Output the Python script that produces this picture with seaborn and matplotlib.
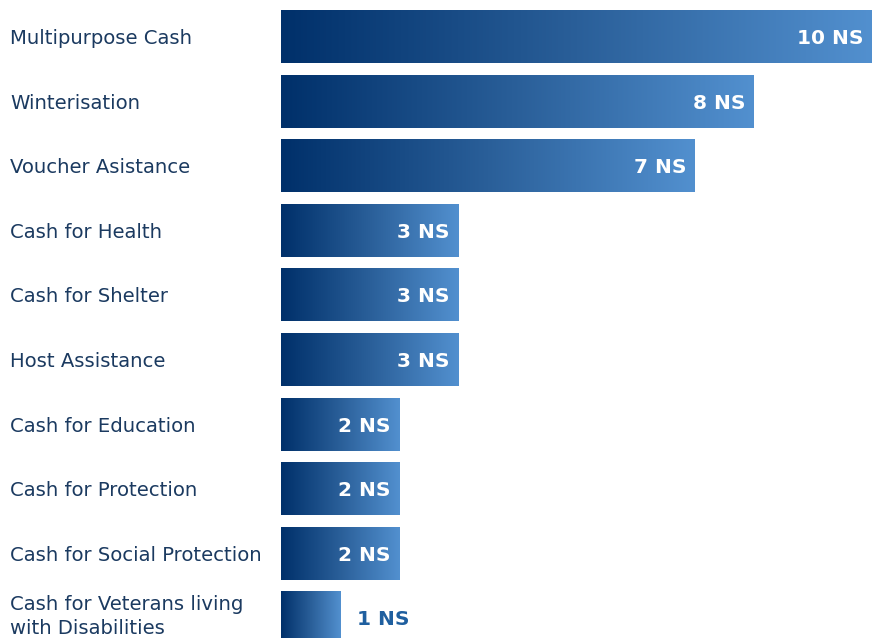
import numpy as np
import pandas as pd
import matplotlib
matplotlib.use("Agg")
import matplotlib.pyplot as plt
import matplotlib.transforms as mtransforms
from matplotlib.colors import LinearSegmentedColormap
import seaborn as sns

categories = ["Multipurpose Cash", "Winterisation", "Voucher Asistance", "Cash for Health",
              "Cash for Shelter", "Host Assistance", "Cash for Education", "Cash for Protection",
              "Cash for Social Protection", "Cash for Veterans living\nwith Disabilities"]
values = [10, 8, 7, 3, 3, 3, 2, 2, 2, 1]
value_labels = [f"{v} NS" for v in values]

sns.set_theme(style="white")
plt.rcParams['font.family'] = ['DejaVu Sans']

df = pd.DataFrame({"category": categories, "value": values})

W, H = 872, 638
fig = plt.figure(figsize=(W / 100, H / 100), dpi=100)
ax = fig.add_axes([281 / W, 0, (W - 281) / W, 1])

sns.barplot(data=df, y="category", x="value", orient="h", ax=ax, width=0.82,
            color="#1f4f85", saturation=1)

cmap = LinearSegmentedColormap.from_list("g", ["#00306a", "#2a5f99", "#5290cf"])
grad = np.linspace(0, 1, 256).reshape(1, -1)
for p in ax.patches:
    x0, y0, w, h = p.get_x(), p.get_y(), p.get_width(), p.get_height()
    ax.imshow(grad, extent=[x0, x0 + w, y0 + h, y0], aspect="auto", cmap=cmap,
              interpolation="bicubic", zorder=2)
    p.set_visible(False)

ax.set_xlim(0, 10)
ax.set_ylim(9.311, -0.565)
for s in ax.spines.values():
    s.set_visible(False)
ax.set_xticks([])
ax.set_yticks([])
ax.set_xlabel("")
ax.set_ylabel("")

blend = mtransforms.blended_transform_factory(fig.transFigure, ax.transData)
for i, cat in enumerate(categories):
    dy = 1.0 if "\n" in cat else -1.5
    tr = blend + mtransforms.ScaledTranslation(0, dy / 72, fig.dpi_scale_trans)
    ax.text(10 / W, i, cat, transform=tr, ha="left", va="center", fontsize=14.1,
            color="#1b3a60", linespacing=1.28, clip_on=False)

for i, (v, lab) in enumerate(zip(values, value_labels)):
    if v >= 2:
        ax.annotate(lab, (v, i), xytext=(-6, -1.5), textcoords="offset points",
                    ha="right", va="center", fontsize=14.5, fontweight="bold",
                    color="white", zorder=5)
    else:
        ax.annotate(lab, (v, i), xytext=(12, -1.5), textcoords="offset points",
                    ha="left", va="center", fontsize=14.5, fontweight="bold",
                    color="#1f5f9f", zorder=5)

fig.savefig("out.png", dpi=100, facecolor="white")
